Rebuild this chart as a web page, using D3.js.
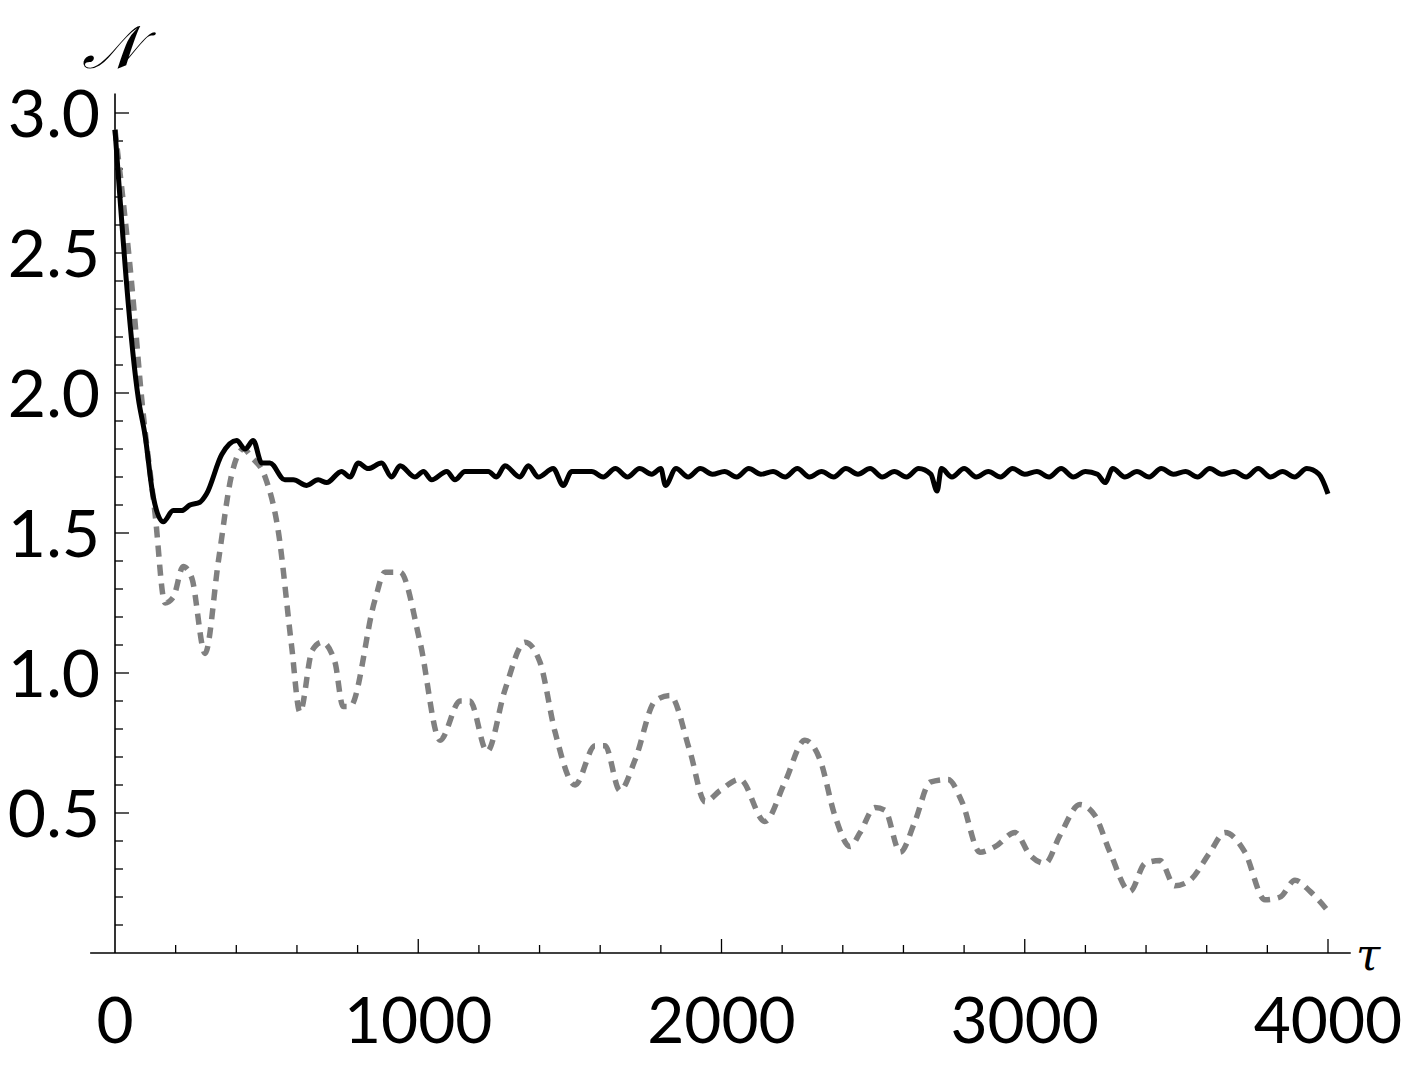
<!DOCTYPE html>
<html><head><meta charset="utf-8">
<script src="https://cdn.jsdelivr.net/npm/d3@7"></script>
<style>body{margin:0;background:#fff}</style>
</head><body>
<svg id="chart" width="1415" height="1067"></svg>
<script>
// solid curve (tau, N)
const solidTau = [0,77,99,126,159,192,220,247,280,302,352,401,429,456,484,511,560,588,632,670,698,747,775,802,835,879,912,940,989,1017,1044,1094,1121,1154,1203,1231,1258,1286,1335,1363,1396,1445,1478,1506,1572,
  1610,1650,1690,1730,1770,1800,1815,1850,1890,1930,1970,2010,2050,2090,2130,2170,2210,2250,2290,2330,2370,2410,2450,2490,2530,2570,2610,2650,2690,2711,2725,2760,2800,2840,2880,2920,2960,3000,3040,3080,3120,3160,3200,3240,3265,3290,3330,3370,3410,3450,3490,3530,3570,3610,3650,3690,3730,3770,3810,3850,3890,3930,3970,4000];
const solidN = [2.94,1.98,1.85,1.63,1.54,1.58,1.58,1.60,1.61,1.64,1.78,1.83,1.80,1.83,1.75,1.75,1.69,1.69,1.67,1.69,1.68,1.72,1.70,1.75,1.73,1.75,1.70,1.74,1.70,1.72,1.69,1.72,1.69,1.72,1.72,1.72,1.70,1.74,1.70,1.74,1.70,1.73,1.67,1.72,1.72,
  1.70,1.73,1.70,1.73,1.71,1.73,1.67,1.73,1.70,1.73,1.71,1.72,1.70,1.73,1.71,1.72,1.70,1.73,1.70,1.72,1.70,1.73,1.71,1.73,1.70,1.72,1.70,1.73,1.71,1.65,1.73,1.70,1.73,1.70,1.72,1.70,1.73,1.71,1.72,1.70,1.73,1.70,1.72,1.71,1.68,1.73,1.70,1.72,1.70,1.73,1.71,1.72,1.70,1.73,1.71,1.72,1.70,1.73,1.70,1.72,1.70,1.73,1.71,1.64];
// dashed curve (tau, N)
const dashTau = [0,55,88,132,165,192,225,253,297,341,385,423,451,495,538,582,610,650,683,725,752,775,857,890,940,1006,1072,1138,1170,1227,1286,1352,1401,1451,1517,1583,1616,1665,1715,1781,1830,1896,1946,1995,2061,2143,2209,2275,2325,2374,2424,2457,2506,2539,2589,2638,2688,2747,2793,2852,2902,2968,3017,3067,3116,3182,3232,3281,3347,3397,3446,3495,3545,3611,3660,3726,3792,3842,3891,3941,4000];
const dashN = [2.94,2.39,1.98,1.57,1.25,1.27,1.38,1.34,1.07,1.40,1.71,1.80,1.77,1.70,1.51,1.10,0.86,1.08,1.11,1.04,0.88,0.88,1.26,1.36,1.36,1.11,0.76,0.90,0.90,0.72,0.94,1.11,1.04,0.79,0.60,0.74,0.74,0.58,0.69,0.90,0.92,0.72,0.54,0.58,0.62,0.47,0.61,0.76,0.69,0.49,0.38,0.43,0.52,0.51,0.36,0.47,0.61,0.62,0.54,0.36,0.38,0.43,0.35,0.32,0.42,0.53,0.49,0.36,0.22,0.32,0.33,0.24,0.26,0.36,0.43,0.36,0.19,0.20,0.26,0.22,0.15];
const xTicks = [0,1000,2000,3000,4000];
const yTicks = [0.5,1.0,1.5,2.0,2.5,3.0];

const svg = d3.select('#chart');
const x = d3.scaleLinear().domain([0,4000]).range([115,1328]);
const y = d3.scaleLinear().domain([0,3]).range([953,113]);
const font = 'Lato, "Open Sans", sans-serif';

// axes lines
svg.append('line').attr('x1',x(-82)).attr('x2',x(4075)).attr('y1',y(0)).attr('y2',y(0)).attr('stroke','#000').attr('stroke-width',1.6);
svg.append('line').attr('x1',x(0)).attr('x2',x(0)).attr('y1',y(0)).attr('y2',y(3.07)).attr('stroke','#000').attr('stroke-width',1.6);

// x ticks (inward)
d3.range(200,4001,200).forEach(t=>{
  const major = t%1000===0;
  svg.append('line').attr('x1',x(t)).attr('x2',x(t)).attr('y1',y(0)).attr('y2',y(0)-(major?14:8)).attr('stroke','#000').attr('stroke-width',1.3);
});
d3.range(1,31).forEach(i=>{
  const v=i/10, major = i%5===0;
  svg.append('line').attr('x1',x(0)).attr('x2',x(0)+(major?14:8)).attr('y1',y(v)).attr('y2',y(v)).attr('stroke','#000').attr('stroke-width',1.3);
});

svg.selectAll('.xl').data(xTicks).join('text')
  .attr('x',d=>x(d)).attr('y',1043).attr('text-anchor','middle')
  .attr('font-family',font).attr('font-size',64).text(d=>d);
svg.selectAll('.yl').data(yTicks).join('text')
  .attr('x',100).attr('y',d=>y(d)+24).attr('text-anchor','end')
  .attr('font-family',font).attr('font-size',66).text(d=>d.toFixed(1));

svg.append('text').attr('x',82).attr('y',68).attr('font-family','"DejaVu Serif", serif').attr('font-style','italic').attr('font-size',60).text('𝒩');
svg.append('text').attr('x',1356).attr('y',970).attr('font-family','"DejaVu Serif", serif').attr('font-style','italic').attr('font-size',44).text('τ');

const line = d3.line().x(d=>x(d[0])).y(d=>y(d[1])).curve(d3.curveMonotoneX);
svg.append('path').datum(d3.zip(dashTau,dashN)).attr('d',line)
  .attr('fill','none').attr('stroke','#808080').attr('stroke-width',5.5).attr('stroke-dasharray','11,8');
svg.append('path').datum(d3.zip(solidTau,solidN)).attr('d',line)
  .attr('fill','none').attr('stroke','#000').attr('stroke-width',5);
</script>
</body></html>
